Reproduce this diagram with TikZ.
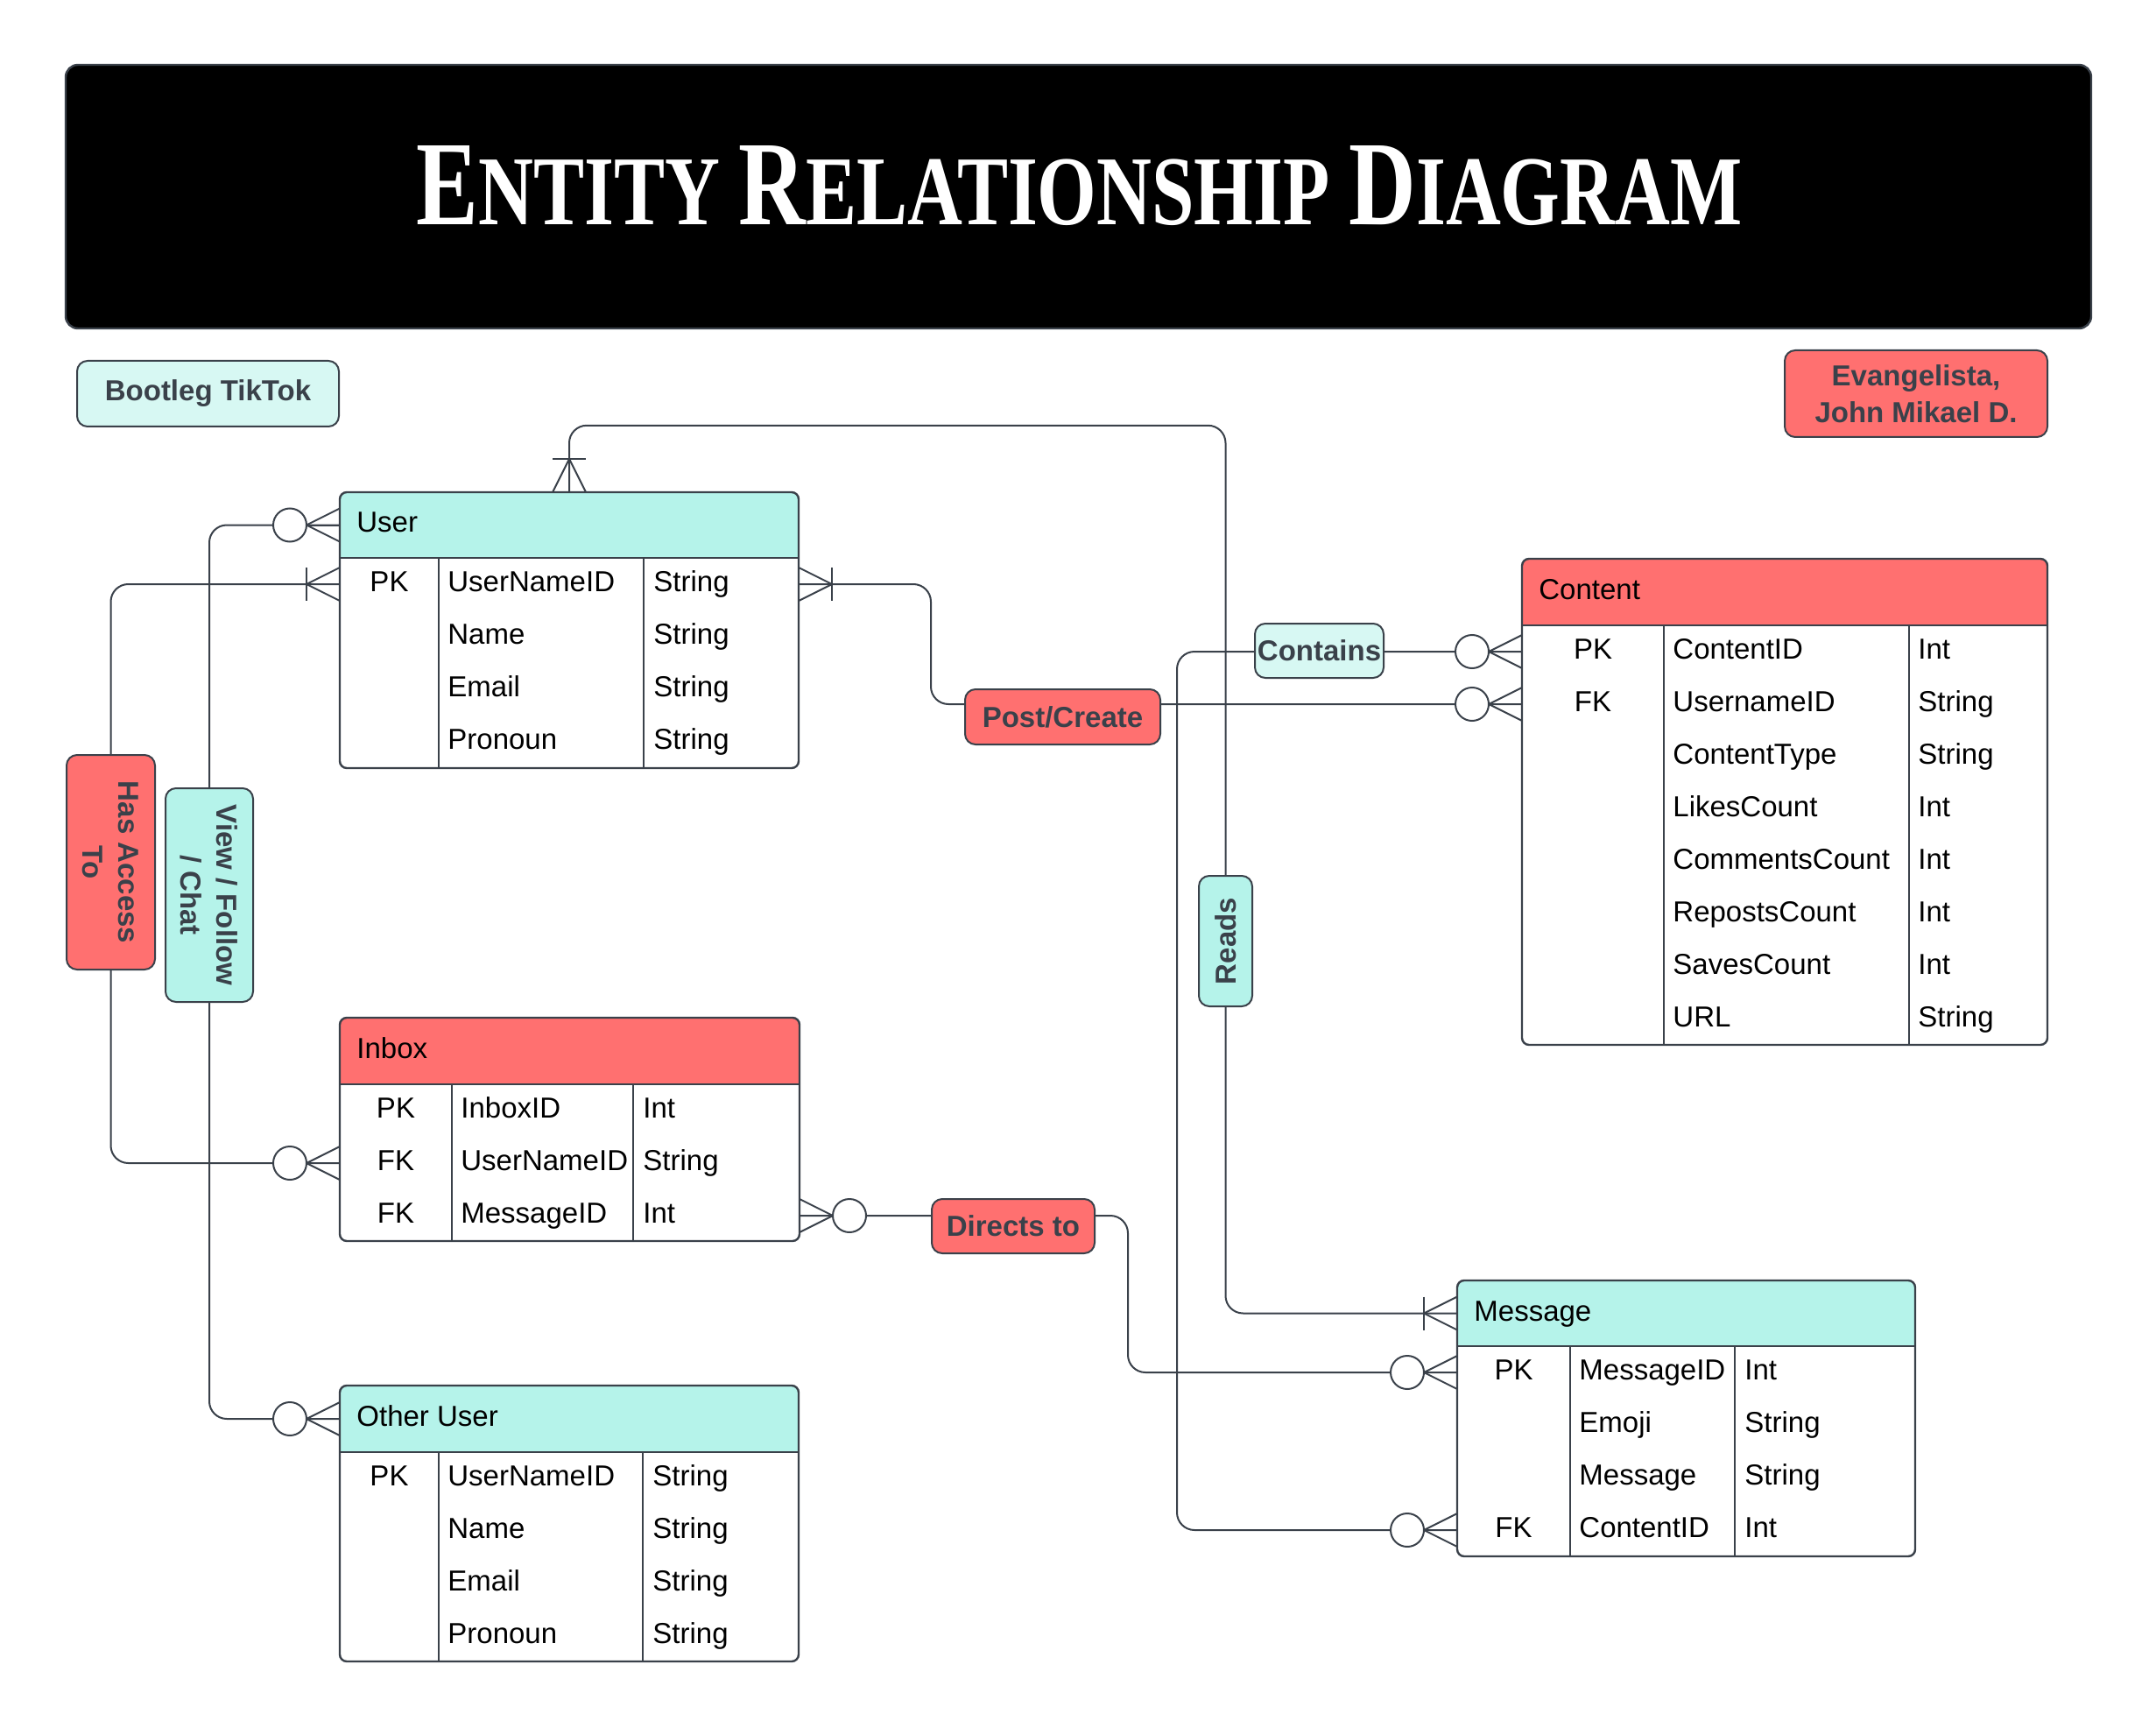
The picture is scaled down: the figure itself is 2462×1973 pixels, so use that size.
\documentclass[tikz,border=0pt]{standalone}
\usepackage{graphicx}
\usepackage{fontspec}
\setmainfont{Liberation Sans}
\newfontfamily\titlefont{Liberation Serif}
\usetikzlibrary{fit,backgrounds,calc}
\definecolor{edge}{HTML}{3A414A}
\definecolor{erteal}{HTML}{B5F3EA}
\definecolor{erlight}{HTML}{D7F8F3}
\definecolor{erred}{HTML}{FF7070}
\tikzset{
  sym/.style={draw=edge, line width=1pt},
  conn/.style={draw=edge, line width=1pt, rounded corners=10pt},
  tblline/.style={draw=edge, line width=1pt},
  cell/.style={font=\fontsize{16.5}{19.5}\selectfont, text=black, inner sep=0pt, text height=11.8pt, text depth=3.3pt},
  lbl/.style={draw=edge, line width=1pt, rounded corners=6pt, font=\bfseries\fontsize{16.5}{20.5}\selectfont, text=edge, inner sep=0pt, align=center},
}
% #1 name #2 x1 #3 y1 #4 x2 #5 y2 #6 header bottom #7 fill #8 title #9 column list
\newcommand\ertable[9]{%
  \coordinate (#1-nw) at (#2,#3);
  \coordinate (#1-se) at (#4,#5);
  \fill[#7, rounded corners=4pt] (#2,#3) rectangle (#4,#6);
  \fill[#7] (#2,{#6-20}) rectangle (#4,#6);
  \node[fit=(#1-nw)(#1-se), inner sep=0pt, draw=edge, line width=1.2pt, rounded corners=4pt] (#1) {};
  \draw[tblline] (#2,#6) -- (#4,#6);
  \foreach \cx in {#9} \draw[tblline] (\cx,#6) -- (\cx,#5);
  \node[cell, anchor=west] (#1-title) at ({#2+19},{(#3+#6)/2}) {#8};
}
% #1 name #2 y #3 key x #4 key #5 field x #6 field #7 type x #8 type
\newcommand\errow[8]{%
  \node[cell] (#1-k) at (#3,#2) {#4};
  \node[cell, anchor=west] (#1-f) at (#5,#2) {#6};
  \node[cell, anchor=west] (#1-t) at (#7,#2) {#8};
}
% zero or many
\newcommand\zmany[3]{%
  \begin{scope}[shift={(#1,#2)}, #3]
    \draw[sym] (0,-19) -- (38,0) -- (0,19);
    \draw[sym] (0,0) -- (38,0);
    \draw[sym, fill=white] (57,0) circle[radius=9.5pt];
  \end{scope}}
% one or many
\newcommand\omany[3]{%
  \begin{scope}[shift={(#1,#2)}, #3]
    \draw[sym] (0,-19) -- (38,0) -- (0,19);
    \draw[sym] (38,-19) -- (38,19);
  \end{scope}}
\begin{document}
\begin{tikzpicture}[x=0.5pt,y=-0.5pt]
\useasboundingbox (0,0) rectangle (2462,1973);

% title bar
\coordinate (tb-nw) at (75,74);
\coordinate (tb-se) at (2388,375);
\node[fit=(tb-nw)(tb-se), inner sep=0pt, fill=black, draw=edge, line width=1.2pt, rounded corners=7pt] (titlebar) {};
\node[text=white, anchor=base, inner sep=0pt] (title) at (1232.5,257) {\resizebox{757pt}{45pt}{\titlefont\bfseries
  \fontsize{20}{20}\selectfont E\fontsize{16.4}{16}\selectfont NTITY\ %
  \fontsize{20}{20}\selectfont R\fontsize{16.4}{16}\selectfont ELATIONSHIP\ %
  \fontsize{20}{20}\selectfont D\fontsize{16.4}{16}\selectfont IAGRAM}};

% corner boxes
\node[lbl, fill=erlight, minimum width=149.5pt, minimum height=37.5pt, font=\bfseries\fontsize{16.5}{19}\selectfont] (bootleg) at (237.5,449.5) {Bootleg TikTok};
\node[lbl, fill=erred, minimum width=150pt, minimum height=49.5pt, font=\bfseries\fontsize{16.5}{21}\selectfont] (author) at (2188,449.5) {Evangelista,\\John Mikael D.};

% User
\ertable{user}{388}{562}{912}{877}{637}{erteal}{User}{501,735}
\errow{u1}{667}{444.5}{PK}{511}{UserNameID}{746}{String}
\errow{u2}{727}{444.5}{}{511}{Name}{746}{String}
\errow{u3}{787}{444.5}{}{511}{Email}{746}{String}
\errow{u4}{847}{444.5}{}{511}{Pronoun}{746}{String}

% Content
\ertable{content}{1738}{638}{2338}{1193}{714}{erred}{Content}{1900,2180}
\errow{c1}{744}{1819}{PK}{1910}{ContentID}{2190}{Int}
\errow{c2}{804}{1819}{FK}{1910}{UsernameID}{2190}{String}
\errow{c3}{864}{1819}{}{1910}{ContentType}{2190}{String}
\errow{c4}{924}{1819}{}{1910}{LikesCount}{2190}{Int}
\errow{c5}{984}{1819}{}{1910}{CommentsCount}{2190}{Int}
\errow{c6}{1044}{1819}{}{1910}{RepostsCount}{2190}{Int}
\errow{c7}{1104}{1819}{}{1910}{SavesCount}{2190}{Int}
\errow{c8}{1164}{1819}{}{1910}{URL}{2190}{String}

% Inbox
\ertable{inbox}{388}{1162}{913}{1417}{1238}{erred}{Inbox}{516,723}
\errow{i1}{1268}{452}{PK}{526}{InboxID}{734}{Int}
\errow{i2}{1328}{452}{FK}{526}{UserNameID}{734}{String}
\errow{i3}{1388}{452}{FK}{526}{MessageID}{734}{Int}

% Message
\ertable{message}{1664}{1462}{2187}{1777}{1537}{erteal}{Message}{1793,1981}
\errow{m1}{1567}{1728.5}{PK}{1803}{MessageID}{1992}{Int}
\errow{m2}{1627}{1728.5}{}{1803}{Emoji}{1992}{String}
\errow{m3}{1687}{1728.5}{}{1803}{Message}{1992}{String}
\errow{m4}{1747}{1728.5}{FK}{1803}{ContentID}{1992}{Int}

% Other User
\ertable{other}{388}{1582}{912}{1897}{1658}{erteal}{Other User}{501,734}
\errow{o1}{1688}{444.5}{PK}{511}{UserNameID}{745}{String}
\errow{o2}{1748}{444.5}{}{511}{Name}{745}{String}
\errow{o3}{1808}{444.5}{}{511}{Email}{745}{String}
\errow{o4}{1868}{444.5}{}{511}{Pronoun}{745}{String}

% relationship labels
\node[lbl, fill=erred, minimum width=111.5pt, minimum height=31.5pt] (postcreate) at (1213.5,818.5) {Post/Create};
\node[lbl, fill=erlight, minimum width=73.5pt, minimum height=31pt] (contains) at (1506.5,743) {Contains};
\node[lbl, fill=erred, minimum width=93pt, minimum height=31pt] (directs) at (1157,1400) {Directs to};
\node[lbl, fill=erteal, rotate=90, minimum width=74.5pt, minimum height=30.5pt] (reads) at (1399.5,1074.5) {Reads};
\node[lbl, fill=erred, rotate=-90, minimum width=122.5pt, minimum height=50.5pt] (hasaccess) at (126.5,984.5) {Has Access\\To};
\node[lbl, fill=erteal, rotate=-90, minimum width=122pt, minimum height=50pt] (view) at (239,1022) {View / Follow\\/ Chat};

% cardinality symbols
\omany{650}{562}{rotate=90}
\zmany{388}{599.5}{xscale=-1}
\omany{388}{667}{xscale=-1}
\omany{912}{667}{}
\zmany{1738}{744}{xscale=-1}
\zmany{1738}{804}{xscale=-1}
\zmany{388}{1328}{xscale=-1}
\zmany{913}{1388}{}
\omany{1664}{1499.5}{xscale=-1}
\zmany{1664}{1567}{xscale=-1}
\zmany{1664}{1747}{xscale=-1}
\zmany{388}{1620}{xscale=-1}

% connectors
\begin{scope}[on background layer]
  \fill[white] (0,0) rectangle (2462,1973);
  \draw[conn] (user.north) -- ++(0,-75) -| (reads.center) |- (message.west |- message-title);
  \draw[conn] (user.west |- u1-f) -| (hasaccess.center) |- (inbox.west |- i2-f);
  \draw[conn] (user.west |- user-title) -| (view.center) |- (other.west |- other-title);
  \draw[conn] (user.east |- u1-f) -| ($(postcreate.west |- c2-f)+(-38,0)$) -- (content.west |- c2-f);
  \draw[conn] (content.west |- c1-f) -| ($(contains.west |- m4-f)+(-88,0)$) -- (message.west |- m4-f);
  \draw[conn] (inbox.east |- i3-f) -| ($(directs.east |- m1-f)+(37,0)$) -- (message.west |- m1-f);
\end{scope}
\end{tikzpicture}
\end{document}
